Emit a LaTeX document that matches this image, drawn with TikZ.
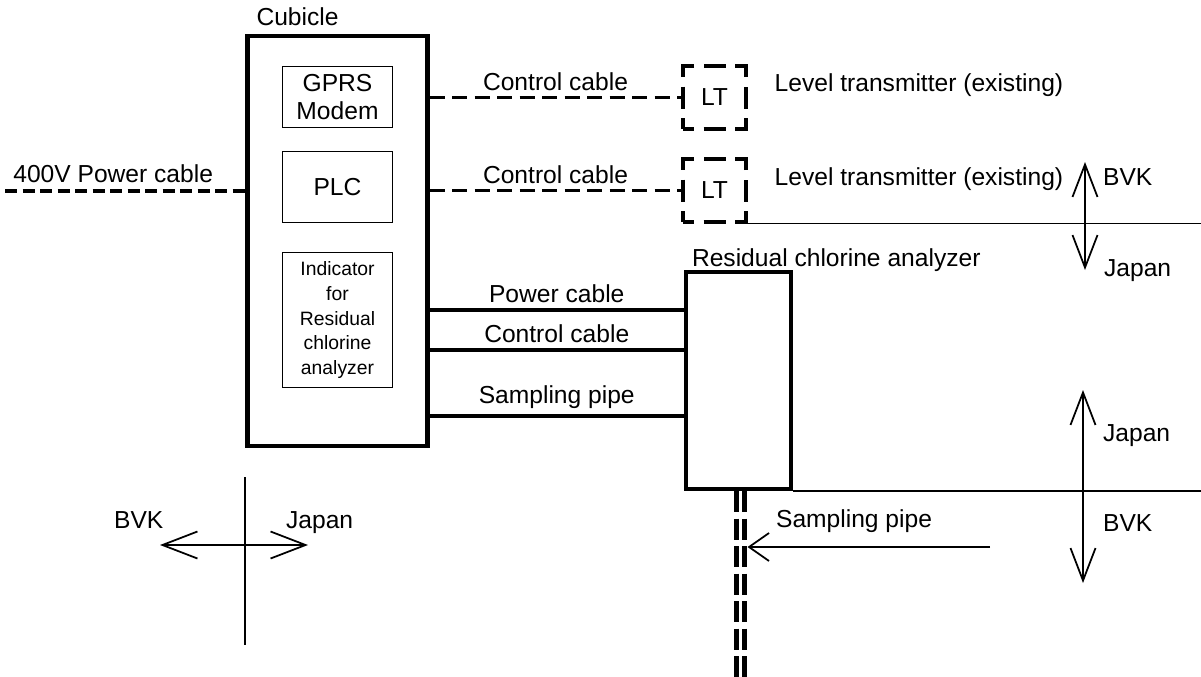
\documentclass[tikz,border=0pt]{standalone}
\usepackage{fontspec}
\setmainfont{Liberation Sans}
\usetikzlibrary{
    arrows.meta,
    positioning,
    calc
}

\begin{document}
\begin{tikzpicture}[
    x=0.2mm, y=-0.2mm,
    every text node part/.style={align=center},
    txt/.style={font=\fontsize{14}{16}\selectfont, inner sep=1pt},
    unit/.style={draw=black, line width=1.1pt, inner sep=2pt, minimum width=22mm, font=\fontsize{14}{15.5}\selectfont},
    heavy/.style={draw=black, line width=2.4pt},
    ltbox/.style={draw=black, line width=1.8pt, minimum size=12.6mm, dash pattern=on 4.4mm off 1.9mm, dash phase=2.2mm, font=\fontsize{14}{16}\selectfont},
    cable/.style={draw=black, line width=1.8pt, dash pattern=on 3mm off 1.5mm},
    pipe/.style={draw=black, line width=1.9pt},
    pipeline/.style={draw=black, line width=2.6pt, dash pattern=on 4.2mm off 1.3mm},
    border/.style={draw=black, line width=1pt},
    cablelbl/.style={txt, above, yshift=2pt},
    dirarrow/.style={border, {Straight Barb[length=6.5mm, width=5mm]}-{Straight Barb[length=6.5mm, width=5mm]}}
]
\useasboundingbox (0,0) rectangle (1201,676);

% ==================== CUBICLE ====================
\node[heavy, minimum width=36mm, minimum height=82mm] (cubicle) at (337.5,241) {};
\node[txt, anchor=base west] (cubicle_lbl) at ($(cubicle.north west)+(9,-8)$) {Cubicle};

\node[unit, minimum height=12.2mm] (gprs) at (337.5,97) {GPRS\\Modem};
\node[unit, minimum height=14.2mm] (plc) at (337.5,187) {PLC};
\node[unit, minimum height=27mm, font=\fontsize{11}{14.2}\selectfont] (indicator) at (337.5,320) {Indicator\\for\\Residual\\chlorine\\analyzer};

% ==================== POWER FEED ====================
\coordinate (feed) at (5,191);
\draw[cable, dash pattern=on 2.4mm off 1.1mm] (feed) -- node[cablelbl, pos=0.45, yshift=1pt] {400V Power cable} (cubicle.west |- feed);

% ==================== LEVEL TRANSMITTERS ====================
\node[ltbox] (lt1) at (714.5,97.5) {LT};
\node[ltbox] (lt2) at (714.5,190.5) {LT};
\draw[cable] (cubicle.east |- lt1) -- node[cablelbl] {Control cable} (lt1.west);
\draw[cable] (cubicle.east |- lt2) -- node[cablelbl] {Control cable} (lt2.west);
\node[txt, anchor=base west] (lt1_lbl) at ($(lt1.east)+(25,-6)$) {Level transmitter (existing)};
\node[txt, anchor=base west] (lt2_lbl) at ($(lt2.east)+(25,-5)$) {Level transmitter (existing)};

% ==================== ANALYZER ====================
\node[heavy, minimum width=21mm, minimum height=43.4mm] (analyzer) at (738.5,380.5) {};
\node[txt, anchor=base west] (analyzer_lbl) at ($(analyzer.north west)+(6,-3)$) {Residual chlorine analyzer};

\draw[pipe] (cubicle.east |- 0,310) -- node[cablelbl] {Power cable} (analyzer.west |- 0,310);
\draw[pipe] (cubicle.east |- 0,350) -- node[cablelbl] {Control cable} (analyzer.west |- 0,350);
\draw[pipe] (cubicle.east |- 0,416) -- node[cablelbl] {Sampling pipe} (analyzer.west |- 0,416);

% ==================== SAMPLING PIPE ====================
\coordinate (pipe_l) at ($(analyzer.south)+(-2,0)$);
\coordinate (pipe_r) at ($(analyzer.south)+(6,0)$);
\draw[pipeline] (pipe_l) -- ++(0,190);
\draw[pipeline] (pipe_r) -- ++(0,190);
\coordinate (pipe_tail) at (990,547);
\draw[border, -{Straight Barb[length=4mm, width=5.6mm]}] (pipe_tail) -- ($(pipe_tail -| pipe_r)+(3,0)$);
\node[txt, anchor=base west] (pipe_lbl) at (774,527) {Sampling pipe};

% ==================== SCOPE BOUNDARIES ====================
\coordinate (edge_top) at (1201,222);
\draw[border] (lt2.south east) -- (lt2.south east -| edge_top);
\coordinate (bvk_n) at (1085,162);
\coordinate (jp_s) at (1085,270);
\draw[dirarrow] (bvk_n) -- (jp_s);
\node[txt, anchor=base west] (bvk_a) at (1101,185) {BVK};
\node[txt, anchor=base west] (jp_a) at (1102,276) {Japan};

\coordinate (edge_low) at (1201,488);
\draw[border] (analyzer.south east) -- (analyzer.south east -| edge_low);
\coordinate (jp_n) at (1083,390);
\coordinate (bvk_s) at (1083,583);
\draw[dirarrow] (jp_n) -- (bvk_s);
\node[txt, anchor=base west] (jp_b) at (1101,441) {Japan};
\node[txt, anchor=base west] (bvk_b) at (1101,531) {BVK};

\coordinate (cut_n) at (245,477);
\coordinate (cut_s) at (245,645);
\draw[border] (cut_n) -- (cut_s);
\coordinate (bvk_w) at (160,545);
\coordinate (jp_e) at (308,545);
\draw[dirarrow, {Straight Barb[length=7mm, width=5.4mm]}-{Straight Barb[length=7mm, width=5.4mm]}] (bvk_w) -- (jp_e);
\node[txt, anchor=base west] (bvk_c) at (112,528) {BVK};
\node[txt, anchor=base west] (jp_c) at (284,528) {Japan};

\end{tikzpicture}
\end{document}
